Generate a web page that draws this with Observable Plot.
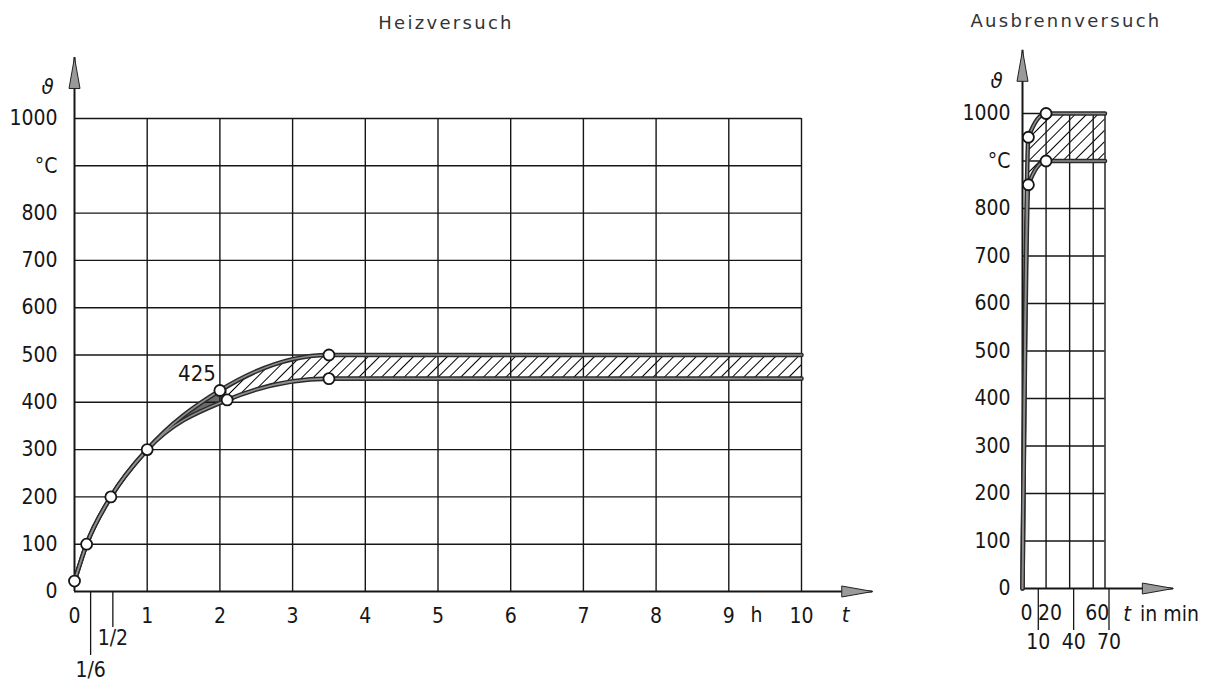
<!DOCTYPE html>
<html><head><meta charset="utf-8">
<script src="https://cdn.jsdelivr.net/npm/d3@7"></script>
<script src="https://cdn.jsdelivr.net/npm/@observablehq/plot@0.6"></script>
<style>
body{margin:0;background:#fff;}
#wrap{position:relative;width:1209px;height:690px;overflow:hidden;}
.title{position:absolute;font-family:"DejaVu Sans",sans-serif;font-size:18px;letter-spacing:2.3px;color:#333;white-space:nowrap;transform:translate(-50%,-50%);}
#left{position:absolute;left:0;top:0;}
#right{position:absolute;left:940px;top:0;}
</style></head><body>
<svg width="0" height="0" style="position:absolute"><defs>
<pattern id="hatch" patternUnits="userSpaceOnUse" width="8" height="8" patternTransform="rotate(45)">
<line x1="0" y1="-1" x2="0" y2="9" stroke="#000" stroke-width="2"/></pattern>
</defs></svg>
<div id="wrap">
<div class="title" style="left:446px;top:22px">Heizversuch</div>
<div class="title" style="left:1066px;top:20px">Ausbrennversuch</div>
<div id="left"></div><div id="right"></div>
</div>
<script>
// ---------- data ----------
const yTicks = [0, 100, 200, 300, 400, 500, 600, 700, 800, 900, 1000];

// Heizversuch (t in h, temperature in °C)
const heatTicks = [0, 1, 2, 3, 4, 5, 6, 7, 8, 9, 10];
const heatFracTicks = [1/6, 1/2];
const heatFracLabels = ["1/6", "1/2"];
const heatUpperT = [0, 1/6, 1/2, 1, 2, 3.5, 10];
const heatUpperV = [22, 100, 200, 300, 425, 500, 500];
const heatLowerT = [0, 1/6, 1/2, 1, 2.1, 3.5, 10];
const heatLowerV = [22, 100, 200, 300, 405, 450, 450];
const heatPointT = [0, 1/6, 1/2, 1, 2, 2.1, 3.5, 3.5];
const heatPointV = [22, 100, 200, 300, 425, 405, 500, 450];
const heatNoteT = [2];
const heatNoteV = [425];
const heatNoteText = ["425"];
const heatHatchStart = 2.1;

// Ausbrennversuch (t in min, temperature in °C)
const burnGridT = [20, 40, 60, 70];
const burnTicksRow1 = [0, 20, 60];
const burnTicksRow2 = [10, 40, 70];
const burnUpperT = [0, 5, 20, 70];
const burnUpperV = [0, 950, 1000, 1000];
const burnLowerT = [0, 5, 20, 70];
const burnLowerV = [0, 850, 900, 900];
const burnPointT = [5, 5, 20, 20];
const burnPointV = [950, 850, 1000, 900];
const burnHatchStart = 5;

// ---------- helpers ----------
const pts = (T, V, s) => T.map((t, i) => ({t, v: V[i], s}));
const FONT = '"DejaVu Sans Condensed", "DejaVu Sans", sans-serif';
const INK = "#161616";
const FS = 21;
const arrowHead = {draw(ctx) { ctx.moveTo(0, 0); ctx.lineTo(5.5, 31); ctx.lineTo(-5.5, 31); ctx.closePath(); }};

function band(upT, upV, loT, loV, splitT, id) {
  return (index, scales, values, dimensions) => {
    const {x, y} = scales;
    const line = d3.line().curve(d3.curveMonotoneX);
    const up = upT.map((t, i) => [x(t), y(upV[i])]);
    const lo = loT.map((t, i) => [x(t), y(loV[i])]).reverse();
    const d = line(up) + "L" + line(lo).slice(1) + "Z";
    const g = d3.create("svg:g");
    g.append("clipPath").attr("id", id).append("rect")
      .attr("x", 0).attr("y", 0).attr("width", x(splitT)).attr("height", dimensions.height);
    g.append("path").attr("d", d).attr("fill", "url(#hatch)");
    g.append("path").attr("d", d).attr("fill", "#6a6a6a").attr("clip-path", `url(#${id})`);
    return g.node();
  };
}

function curveMarks(upper, lower, points) {
  const data = [...upper, ...lower];
  return [
    Plot.line(data, {x: "t", y: "v", z: "s", curve: "monotone-x", stroke: "#2b2b2b", strokeWidth: 4.6}),
    Plot.line(data, {x: "t", y: "v", z: "s", curve: "monotone-x", stroke: "#8f8f8f", strokeWidth: 1.6}),
    Plot.dot(points, {x: "t", y: "v", r: 5.5, fill: "white", stroke: INK, strokeWidth: 1.8})
  ];
}

// ---------- Heizversuch ----------
const heatUpper = pts(heatUpperT, heatUpperV, "u");
const heatLower = pts(heatLowerT, heatLowerV, "l");
const heatPoints = pts(heatPointT, heatPointV, "p");
const heatNotes = pts(heatNoteT, heatNoteV, "n").map((d, i) => ({...d, label: heatNoteText[i]}));
const heatXMax = heatTicks[heatTicks.length - 1];

const left = Plot.plot({
  width: 900, height: 690,
  marginLeft: 74, marginRight: 99, marginTop: 118, marginBottom: 99,
  x: {domain: [0, heatXMax], axis: null, label: null},
  y: {domain: [0, 1000], axis: null, label: null},
  style: {fontFamily: FONT, fontSize: FS + "px", color: INK, background: "transparent", overflow: "visible"},
  marks: [
    band(heatUpperT, heatUpperV, heatLowerT, heatLowerV, heatHatchStart, "clipHeat"),
    Plot.ruleY(yTicks.filter(d => d > 0), {x1: 0, x2: heatXMax, stroke: INK, strokeWidth: 1.4}),
    Plot.ruleX(heatTicks.filter(d => d > 0), {y1: 0, y2: 1000, stroke: INK, strokeWidth: 1.4}),
    Plot.ruleX([0], {y1: 0, y2: 1129, stroke: INK, strokeWidth: 2}),
    Plot.ruleY([0], {x1: 0, x2: 10.98, stroke: INK, strokeWidth: 2.2}),
    Plot.dot([{t: 0, v: 1129}], {x: "t", y: "v", symbol: arrowHead, fill: "#9a9a9a", stroke: "#222", strokeWidth: 1}),
    Plot.dot([{t: 10.98, v: 0}], {x: "t", y: "v", symbol: arrowHead, rotate: 90, fill: "#9a9a9a", stroke: "#222", strokeWidth: 1}),
    Plot.axisY(yTicks, {anchor: "left", label: null, tickSize: 0, tickPadding: 17, fontSize: FS, tickFormat: d => d === 900 ? "°C" : String(d)}),
    Plot.axisX(heatTicks, {anchor: "bottom", label: null, tickSize: 0, tickPadding: 17, fontSize: FS, tickFormat: d => String(d)}),
    Plot.axisX([heatFracTicks[0]], {anchor: "bottom", label: null, tickSize: 64, tickPadding: 7, fontSize: FS, dx: 4, strokeWidth: 1.3, tickFormat: () => heatFracLabels[0]}),
    Plot.axisX([heatFracTicks[1]], {anchor: "bottom", label: null, tickSize: 36, tickPadding: 3, fontSize: FS, dx: 2, strokeWidth: 1.3, tickFormat: () => heatFracLabels[1]}),
    Plot.text(["ϑ"], {frameAnchor: "top-left", dx: -33, dy: -40, fontSize: 22, fontStyle: "italic", fill: INK}),
    Plot.text(["h"], {frameAnchor: "bottom-right", dx: -39, dy: 30, fontSize: FS, fill: INK}),
    Plot.text(["t"], {frameAnchor: "bottom-right", dx: 48, dy: 30, fontSize: 22, fontStyle: "italic", fill: INK}),
    ...curveMarks(heatUpper, heatLower, heatPoints),
    Plot.text(heatNotes, {x: "t", y: "v", text: "label", textAnchor: "end", dx: -4, dy: -17, fontSize: 22, fill: INK})
  ]
});
document.getElementById("left").append(left);

// ---------- Ausbrennversuch ----------
const burnUpper = pts(burnUpperT, burnUpperV, "u");
const burnLower = pts(burnLowerT, burnLowerV, "l");
const burnPoints = pts(burnPointT, burnPointV, "p");
const burnXMax = burnGridT[burnGridT.length - 1];

const right = Plot.plot({
  width: 269, height: 690,
  marginLeft: 82, marginRight: 104.5, marginTop: 113, marginBottom: 102,
  x: {domain: [0, burnXMax], axis: null, label: null},
  y: {domain: [0, 1000], axis: null, label: null},
  style: {fontFamily: FONT, fontSize: FS + "px", color: INK, background: "transparent", overflow: "visible"},
  marks: [
    band(burnUpperT, burnUpperV, burnLowerT, burnLowerV, burnHatchStart, "clipBurn"),
    Plot.ruleY(yTicks.filter(d => d > 0), {x1: 0, x2: burnXMax, stroke: INK, strokeWidth: 1.4}),
    Plot.ruleX(burnGridT, {y1: 0, y2: 1000, stroke: INK, strokeWidth: 1.4}),
    Plot.ruleX([0], {y1: 0, y2: 1133, stroke: INK, strokeWidth: 2}),
    Plot.ruleY([0], {x1: 0, x2: 128, stroke: INK, strokeWidth: 2.2}),
    Plot.dot([{t: 0, v: 1133}], {x: "t", y: "v", symbol: arrowHead, fill: "#9a9a9a", stroke: "#222", strokeWidth: 1}),
    Plot.dot([{t: 128, v: 0}], {x: "t", y: "v", symbol: arrowHead, rotate: 90, fill: "#9a9a9a", stroke: "#222", strokeWidth: 1}),
    Plot.axisY(yTicks, {anchor: "left", label: null, tickSize: 0, tickPadding: 12, fontSize: FS, tickFormat: d => d === 900 ? "°C" : String(d)}),
    Plot.axisX(burnTicksRow1, {anchor: "bottom", label: null, tickSize: 0, tickPadding: 17, fontSize: FS, dx: 4, tickFormat: d => String(d)}),
    Plot.axisX(burnTicksRow2, {anchor: "bottom", label: null, tickSize: 42, tickPadding: 4, fontSize: FS, dx: 4, strokeWidth: 1.3, tickFormat: d => String(d)}),
    Plot.text(["ϑ"], {frameAnchor: "top-left", dx: -32, dy: -41, fontSize: 22, fontStyle: "italic", fill: INK}),
    Plot.text(["t"], {frameAnchor: "bottom-right", dx: 26, dy: 32, fontSize: 22, fontStyle: "italic", fill: INK}),
    Plot.text(["in min"], {frameAnchor: "bottom-right", dx: 35, dy: 32, textAnchor: "start", fontSize: FS, fill: INK}),
    ...curveMarks(burnUpper, burnLower, burnPoints)
  ]
});
document.getElementById("right").append(right);
</script>
</body></html>
